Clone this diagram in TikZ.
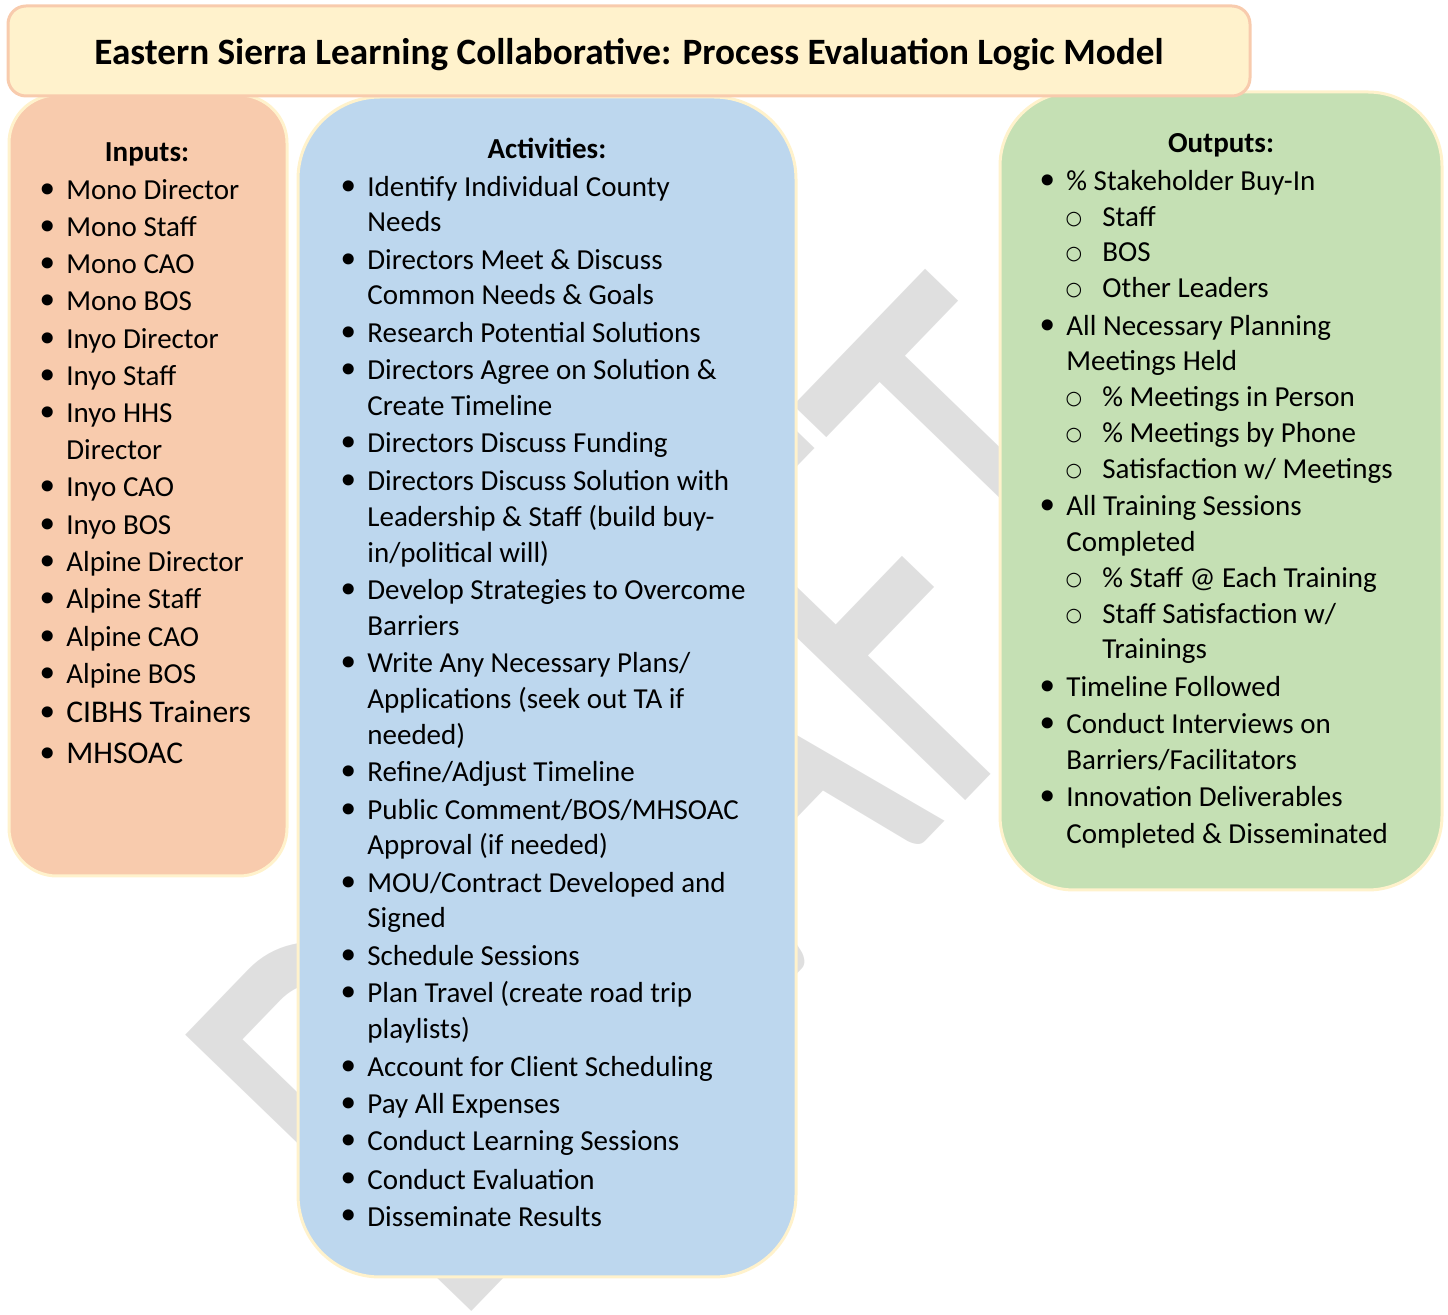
\documentclass[tikz,border=0pt]{standalone}
\usepackage{fontspec}
\setmainfont{Carlito}
\setmonofont{Liberation Mono}
\newfontfamily\bulfont{DejaVu Sans}
\definecolor{titlefill}{HTML}{FFF2CC}
\definecolor{titleedge}{HTML}{F8CBAD}
\definecolor{infill}{HTML}{F8CBAD}
\definecolor{actfill}{HTML}{BDD7EE}
\definecolor{outfill}{HTML}{C5E0B4}
\definecolor{boxedge}{HTML}{FFF2CC}
\definecolor{wmgray}{HTML}{DFDFDF}
\newcommand\bodyfont{\fontsize{14.5}{17}\selectfont}
\newcommand\bigfont{\fontsize{15.8}{19}\selectfont}
\newcommand\BulLine[4]{\node[bul] (#1-b) at ({#2-18},{#3+3-6}) {•};\node[txt] (#1) at (#2,{#3+3}) {#4};}
\newcommand\ContLine[4]{\node[txt] (#1) at (#2,{#3+3}) {#4};}
\newcommand\SubLine[4]{\node[subb] (#1-b) at ({#2-28},{#3+3-7}) {○};\node[txt] (#1) at (#2,{#3+3}) {#4};}
\begin{document}
\begin{tikzpicture}[x=0.5pt,y=-0.5pt,
  txt/.style={anchor=base west,inner sep=0,font=\bodyfont},
  bul/.style={anchor=center,inner sep=0,font=\fontsize{19}{19}\selectfont\bulfont},
  subb/.style={anchor=center,inner sep=0,font=\fontsize{9.5}{10}\selectfont\bulfont},
  head/.style={anchor=base,inner sep=0,font=\bodyfont\bfseries},
  panel/.style={draw=boxedge,line width=1.5pt},
]
\useasboundingbox (0,0) rectangle (1448,1315);
% watermark
\node[anchor=base west,inner sep=0,rotate=46,text=wmgray] (wm) at (452,1332)
  {\scalebox{0.66}[1]{\fontsize{310}{310}\selectfont DRAFT}};
% panels
\draw[panel,fill=infill,rounded corners=24pt] (9,95) rectangle (287,876);
\draw[panel,fill=actfill,rounded corners=41pt] (298,97) rectangle (796,1277);
\draw[panel,fill=outfill,rounded corners=37pt] (1000,92) rectangle (1442,890);
\draw[draw=titleedge,line width=1.5pt,fill=titlefill,rounded corners=9pt] (8,6) rectangle (1250,96);
\node[anchor=base,inner sep=0,font=\fontsize{18.6}{22}\selectfont\bfseries] (title) at (629,65)
  {Eastern Sierra Learning Collaborative: Process Evaluation Logic Model};
% inputs
\node[head] (inh) at (147,162) {Inputs:};
\BulLine{i1}{66}{197}{Mono Director}
\BulLine{i2}{66}{234}{Mono Staff}
\BulLine{i3}{66}{271}{Mono CAO}
\BulLine{i4}{66}{308}{Mono BOS}
\BulLine{i5}{66}{346}{Inyo Director}
\BulLine{i6}{66}{383}{Inyo Staff}
\BulLine{i7}{66}{420}{Inyo HHS}
\ContLine{i7c}{66}{457}{Director}
\BulLine{i8}{66}{494}{Inyo CAO}
\BulLine{i9}{66}{532}{Inyo BOS}
\BulLine{i10}{66}{569}{Alpine Director}
\BulLine{i11}{66}{606}{Alpine Staff}
\BulLine{i12}{66}{644}{Alpine CAO}
\BulLine{i13}{66}{681}{Alpine BOS}
\BulLine{i14}{66}{720}{\bigfont CIBHS Trainers}
\BulLine{i15}{66}{761}{\bigfont MHSOAC}
% activities
\node[head] (ach) at (547,159) {Activities:};
\BulLine{a1}{367}{194}{Identify Individual County}
\ContLine{a1c}{367}{229}{Needs}
\BulLine{a2}{367}{267}{Directors Meet \& Discuss}
\ContLine{a2c}{367}{302}{Common Needs \& Goals}
\BulLine{a3}{367}{340}{Research Potential Solutions}
\BulLine{a4}{367}{377}{Directors Agree on Solution \&}
\ContLine{a4c}{367}{413}{Create Timeline}
\BulLine{a5}{367}{450}{Directors Discuss Funding}
\BulLine{a6}{367}{488}{Directors Discuss Solution with}
\ContLine{a6c}{367}{524}{Leadership \& Staff (build buy-}
\ContLine{a6d}{367}{560}{in/political will)}
\BulLine{a7}{367}{597}{Develop Strategies to Overcome}
\ContLine{a7c}{367}{633}{Barriers}
\BulLine{a8}{367}{670}{Write Any Necessary Plans/}
\ContLine{a8c}{367}{706}{Applications (seek out TA if}
\ContLine{a8d}{367}{742}{needed)}
\BulLine{a9}{367}{779}{Refine/Adjust Timeline}
\BulLine{a10}{367}{817}{Public Comment/BOS/MHSOAC}
\ContLine{a10c}{367}{852}{Approval (if needed)}
\BulLine{a11}{367}{890}{MOU/Contract Developed and}
\ContLine{a11c}{367}{925}{Signed}
\BulLine{a12}{367}{963}{Schedule Sessions}
\BulLine{a13}{367}{1000}{Plan Travel (create road trip}
\ContLine{a13c}{367}{1036}{playlists)}
\BulLine{a14}{367}{1074}{Account for Client Scheduling}
\BulLine{a15}{367}{1111}{Pay All Expenses}
\BulLine{a16}{367}{1148}{Conduct Learning Sessions}
\BulLine{a17}{367}{1186}{Conduct Evaluation}
\BulLine{a18}{367}{1223}{Disseminate Results}
% outputs
\node[head] (outh) at (1221,153) {Outputs:};
\BulLine{o1}{1066}{188}{\% Stakeholder Buy-In}
\SubLine{o1a}{1102}{224}{Staff}
\SubLine{o1b}{1102}{259}{BOS}
\SubLine{o1c}{1102}{295}{Other Leaders}
\BulLine{o2}{1066}{333}{All Necessary Planning}
\ContLine{o2c}{1066}{368}{Meetings Held}
\SubLine{o2a}{1102}{404}{\% Meetings in Person}
\SubLine{o2b}{1102}{440}{\% Meetings by Phone}
\SubLine{o2d}{1102}{476}{Satisfaction w/ Meetings}
\BulLine{o3}{1066}{513}{All Training Sessions}
\ContLine{o3c}{1066}{549}{Completed}
\SubLine{o3a}{1102}{585}{\% Staff @ Each Training}
\SubLine{o3b}{1102}{621}{Staff Satisfaction w/}
\ContLine{o3d}{1102}{656}{Trainings}
\BulLine{o4}{1066}{694}{Timeline Followed}
\BulLine{o5}{1066}{731}{Conduct Interviews on}
\ContLine{o5c}{1066}{767}{Barriers/Facilitators}
\BulLine{o6}{1066}{804}{Innovation Deliverables}
\ContLine{o6c}{1066}{841}{Completed \& Disseminated}
\end{tikzpicture}
\end{document}
